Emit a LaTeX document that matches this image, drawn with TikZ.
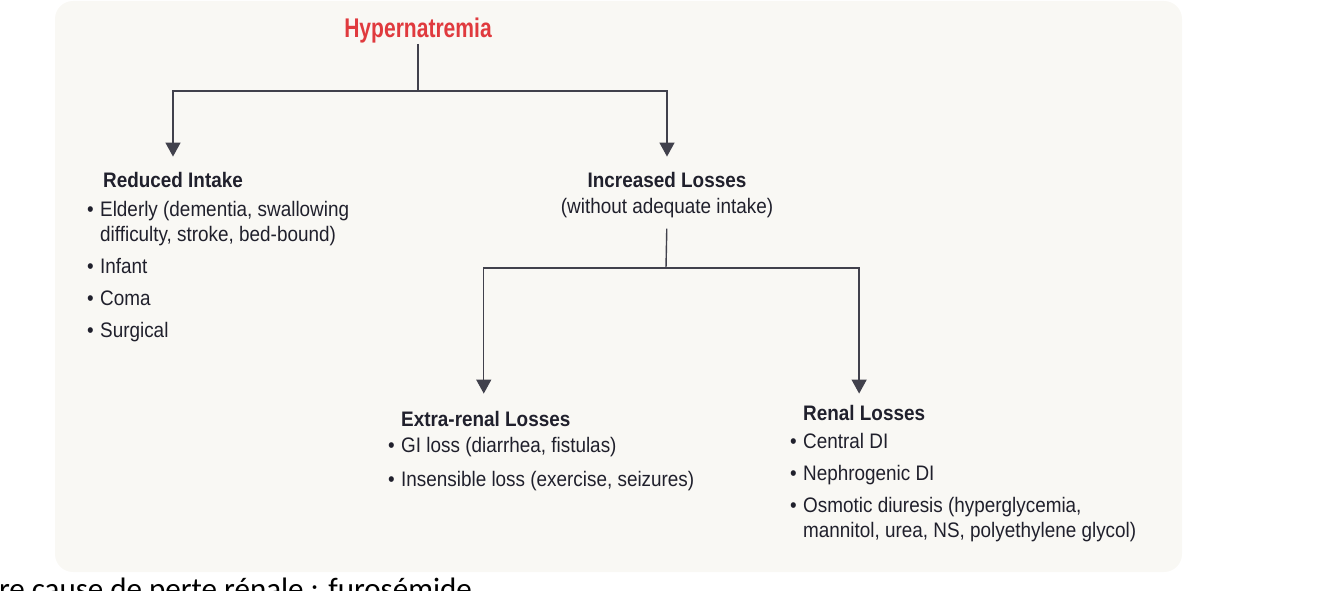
\documentclass[tikz,border=0pt]{standalone}
\usepackage{fontspec}
\setmainfont{Liberation Sans}[FakeStretch=0.9]
\newfontfamily\titlefont{Liberation Sans}[FakeStretch=0.78]
\newfontfamily\notefont{Carlito}
\usetikzlibrary{positioning,arrows.meta}
\definecolor{Ink}{RGB}{32,32,44}
\definecolor{Alert}{RGB}{224,58,62}
\definecolor{Paper}{RGB}{249,248,244}
\newcommand{\bul}{\makebox[13pt][l]{\textbullet}}
\newcommand{\ind}{\hspace*{13pt}}

\begin{document}
\begin{tikzpicture}[
    x=1pt,
    y=-1pt,
    every node/.style={inner sep=0pt, text=Ink},
    titlebox/.style={
      text=Alert,
      font=\titlefont\fontsize{27}{32}\selectfont\bfseries
    },
    headbox/.style={
      font=\fontsize{21}{25}\selectfont\bfseries
    },
    subbox/.style={
      font=\fontsize{21}{25}\selectfont
    },
    listbox/.style={
      align=left,
      font=\fontsize{21}{25}\selectfont
    },
    link/.style={line width=1.4pt, color=Ink!85},
    flow/.style={link, -{Triangle[length=14pt,width=15pt]}}
  ]
    \useasboundingbox (0,0) rectangle (1334,591);
    \fill[Paper, rounded corners=18pt] (55,1) rectangle (1182,572);

    % Top of the tree
    \node[titlebox, anchor=base] (hyper) at (418,38) {Hypernatremia};
    \coordinate (split1) at (418,91);

    % First level
    \node[headbox, anchor=base] (reduced) at (173,187) {Reduced Intake};
    \node[listbox, anchor=north west] (reducedlist) at (87,201)
      {\bul Elderly (dementia, swallowing\\
       \ind difficulty, stroke, bed-bound)\\[7pt]
       \bul Infant\\[7pt]
       \bul Coma\\[7pt]
       \bul Surgical};

    \node[headbox, anchor=base] (increased) at (667,187) {Increased Losses};
    \node[subbox, anchor=base] (increasedsub) at (667,213) {(without adequate intake)};
    \coordinate (split2) at (666,268);

    % Second level
    \node[headbox, anchor=base west] (extra) at (401,426) {Extra-renal Losses};
    \node[listbox, anchor=north west] (extralist) at (388,437)
      {\bul GI loss (diarrhea, fistulas)\\[9pt]
       \bul Insensible loss (exercise, seizures)};

    \node[headbox, anchor=base west] (renal) at (803,420) {Renal Losses};
    \node[listbox, anchor=north west] (renallist) at (790,433)
      {\bul Central DI\\[7pt]
       \bul Nephrogenic DI\\[7pt]
       \bul Osmotic diuresis (hyperglycemia,\\
       \ind mannitol, urea, NS, polyethylene glycol)};

    % Connectors
    \draw[link] (hyper.south) -- (split1);
    \draw[flow, shorten >=15pt] (split1) -| (reduced.north);
    \draw[flow, shorten >=15pt] (split1) -| (increased.north);
    \draw[link, shorten <=11pt] (increasedsub.south) -- (split2);
    \draw[flow, shorten >=17pt] (split2) -| ([xshift=-2pt]extra.north);
    \draw[flow, shorten >=11pt] (split2) -| ([xshift=-5pt]renal.north);

    % Clipped note under the frame
    \node[font=\notefont\fontsize{31}{36}\selectfont, text=black, anchor=base east] (note) at (472,599)
      {Autre cause de perte rénale : furosémide};
\end{tikzpicture}
\end{document}
